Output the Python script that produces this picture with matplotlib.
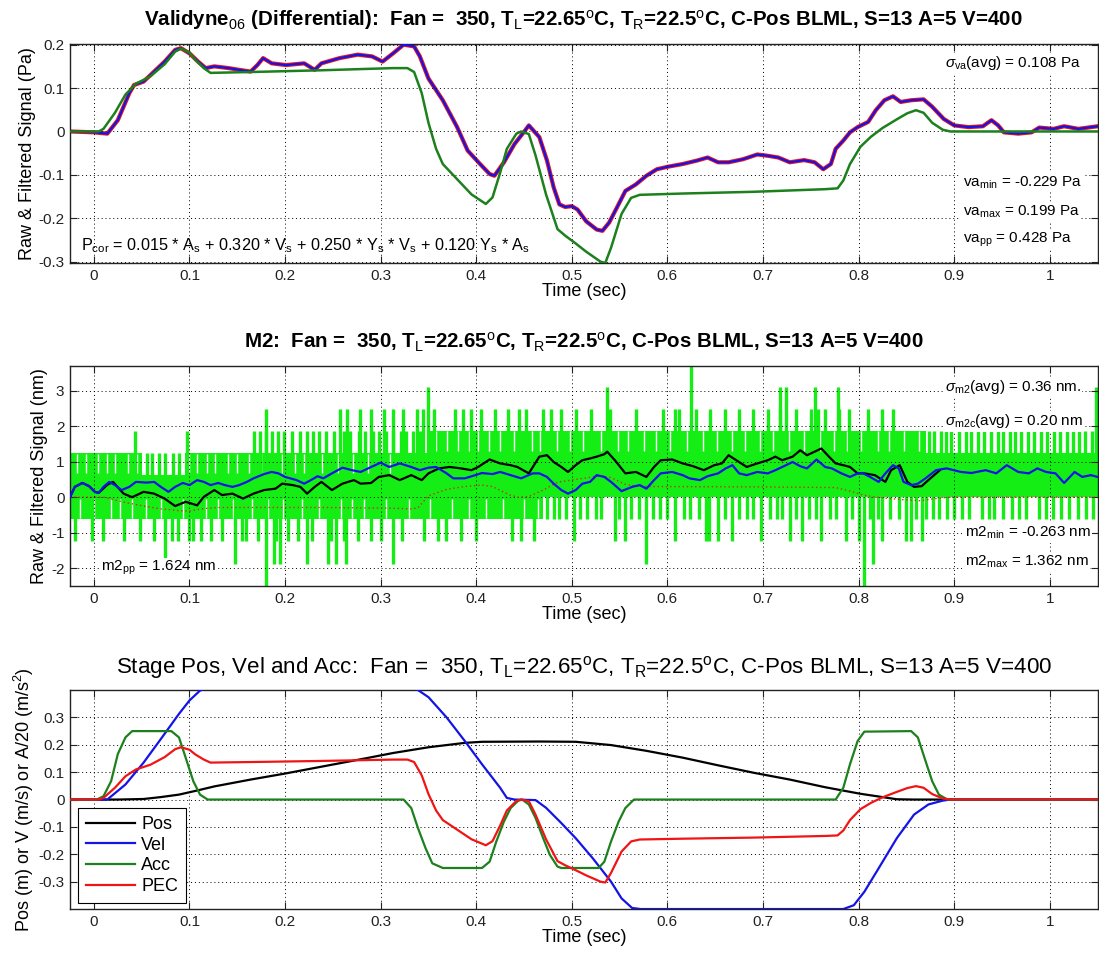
import matplotlib
matplotlib.use("Agg")
import matplotlib.pyplot as plt
import numpy as np
from matplotlib.ticker import FuncFormatter

plt.rcParams["font.family"] = ["Liberation Sans", "DejaVu Sans"]
plt.rcParams["mathtext.fontset"] = "custom"
plt.rcParams["mathtext.rm"] = "Liberation Sans"
plt.rcParams["mathtext.it"] = "Liberation Sans:italic"
plt.rcParams["mathtext.bf"] = "Liberation Sans:bold"

# ------------------------------------------------------------
# Panel 1: Validyne pressure (filtered) and P_cor model
# ------------------------------------------------------------
va_t = [-0.025, 0.0, 0.014, 0.025, 0.037, 0.042, 0.052, 0.063, 0.074, 0.085, 0.091,
        0.1, 0.109, 0.117, 0.126, 0.141, 0.152, 0.164, 0.171, 0.177, 0.186, 0.201,
        0.22, 0.231, 0.238, 0.257, 0.276, 0.291, 0.302, 0.313, 0.324, 0.335, 0.341,
        0.35, 0.365, 0.38, 0.391, 0.404, 0.414, 0.419, 0.429, 0.44, 0.451, 0.455,
        0.466, 0.474, 0.481, 0.487, 0.493, 0.5, 0.506, 0.515, 0.526, 0.532, 0.539,
        0.547, 0.556, 0.567, 0.578, 0.589, 0.601, 0.616, 0.631, 0.642, 0.653, 0.664,
        0.679, 0.694, 0.705, 0.716, 0.728, 0.743, 0.754, 0.763, 0.771, 0.776, 0.784,
        0.791, 0.799, 0.81, 0.818, 0.827, 0.836, 0.844, 0.855, 0.868, 0.877, 0.889,
        0.9, 0.915, 0.93, 0.939, 0.946, 0.952, 0.967, 0.981, 0.989, 1.004, 1.015,
        1.03, 1.05]
va_v = [0.0, -0.002, -0.005, 0.026, 0.088, 0.107, 0.115, 0.138, 0.161, 0.188, 0.192,
        0.18, 0.161, 0.146, 0.15, 0.146, 0.142, 0.138, 0.153, 0.169, 0.157, 0.153,
        0.157, 0.142, 0.157, 0.169, 0.177, 0.173, 0.161, 0.18, 0.2, 0.196, 0.173,
        0.122, 0.072, 0.01, -0.044, -0.075, -0.098, -0.102, -0.071, -0.029, 0.002, 0.014,
        -0.013, -0.067, -0.129, -0.168, -0.174, -0.172, -0.18, -0.207, -0.226, -0.229, -0.21,
        -0.176, -0.137, -0.122, -0.102, -0.087, -0.081, -0.075, -0.067, -0.06, -0.071, -0.071,
        -0.064, -0.053, -0.056, -0.06, -0.071, -0.066, -0.071, -0.087, -0.075, -0.04, -0.021,
        -0.002, 0.01, 0.022, 0.049, 0.072, 0.081, 0.068, 0.072, 0.074, 0.057, 0.029,
        0.014, 0.01, 0.012, 0.026, 0.014, -0.002, -0.005, -0.002, 0.009, 0.006, 0.012,
        0.006, 0.012]

# P_cor model == PEC curve of the stage panel
pec_t = [-0.025, 0.005, 0.01, 0.022, 0.033, 0.044, 0.059, 0.074, 0.085, 0.091, 0.1,
         0.106, 0.115, 0.122, 0.164, 0.238, 0.313, 0.328, 0.335, 0.343, 0.35, 0.358,
         0.365, 0.38, 0.395, 0.41, 0.417, 0.425, 0.432, 0.442, 0.447, 0.455, 0.462,
         0.473, 0.485, 0.493, 0.504, 0.515, 0.53, 0.535, 0.541, 0.552, 0.562, 0.571,
         0.616, 0.69, 0.765, 0.778, 0.784, 0.791, 0.802, 0.813, 0.825, 0.84, 0.851,
         0.86, 0.868, 0.877, 0.888, 0.896, 1.05]
pec_v = [0.0, 0.0, 0.006, 0.043, 0.085, 0.11, 0.127, 0.155, 0.184, 0.191, 0.182,
         0.165, 0.146, 0.135, 0.137, 0.141, 0.146, 0.146, 0.137, 0.088, 0.02, -0.04,
         -0.075, -0.11, -0.145, -0.167, -0.152, -0.095, -0.04, -0.005, 0.0, -0.006, -0.055,
         -0.145, -0.225, -0.24, -0.258, -0.277, -0.3, -0.303, -0.268, -0.19, -0.153, -0.146,
         -0.143, -0.139, -0.133, -0.131, -0.113, -0.075, -0.035, -0.012, 0.008, 0.028, 0.042,
         0.049, 0.043, 0.02, 0.004, 0.0, 0.0]

# ------------------------------------------------------------
# Panel 2: M2 raw (quantised), filtered, corrected
# ------------------------------------------------------------
m2_core_t = [-0.025, 0.05, 0.095, 0.35, 0.47, 0.87, 1.05]
m2_core_lo = [-0.62, -0.62, -0.62, -0.62, 0.0, 0.0, 0.0]
m2_core_hi = [1.245, 0.62, 1.245, 1.87, 1.87, 1.245, 1.245]

# white streaks inside the dense band (times where the raw signal skips a level)
gap_hi_a = [-0.018, -0.008, 0.004, 0.014, 0.022, 0.036, 0.045, 0.1, 0.108, 0.118,
            0.127, 0.14, 0.15, 0.162, 0.175, 0.197, 0.21, 0.22, 0.239, 0.255, 0.271,
            0.287, 0.31, 0.325, 0.34]
gap_hi_b = [0.358, 0.369, 0.381, 0.392, 0.402, 0.413, 0.425, 0.44, 0.458, 0.467,
            0.484, 0.498, 0.512, 0.53, 0.548, 0.559, 0.575, 0.588, 0.603, 0.62, 0.637,
            0.652, 0.668, 0.681, 0.697, 0.71, 0.727, 0.743, 0.76, 0.774, 0.788, 0.803,
            0.82, 0.832, 0.848, 0.863]
gap_lo = [-0.015, 0.0, 0.018, 0.027, 0.04, 0.055, 0.07, 0.093, 0.117, 0.13, 0.145,
          0.165, 0.182, 0.198, 0.218, 0.235, 0.258, 0.27, 0.283, 0.306, 0.33, 0.352,
          0.375, 0.392, 0.41, 0.428, 0.45, 0.465]

up_125 = [0.056, 0.061, 0.068, 0.074, 0.083, 0.089]
up_187 = [0.043, 0.097, 0.168, 0.174, 0.18, 0.186, 0.193, 0.199, 0.207, 0.216, 0.223,
          0.229, 0.236, 0.243, 0.251, 0.262, 0.268, 0.277, 0.284, 0.292, 0.298, 0.306,
          0.313, 0.321, 0.327, 0.334, 0.341, 0.874, 0.879, 0.886, 0.891, 0.897, 0.905,
          0.912, 0.918, 0.925, 0.931, 0.938, 0.946, 0.951, 0.958, 0.964, 0.97, 0.977,
          0.984, 0.991, 0.997, 1.004, 1.011, 1.018, 1.024, 1.031, 1.037, 1.044]
up_249 = [0.18, 0.257, 0.265, 0.278, 0.29, 0.304, 0.313, 0.323, 0.338, 0.344, 0.356,
          0.378, 0.386, 0.395, 0.405, 0.42, 0.433, 0.445, 0.452, 0.47, 0.478, 0.489,
          0.504, 0.52, 0.54, 0.567, 0.595, 0.608, 0.612, 0.63, 0.645, 0.66, 0.675,
          0.69, 0.705, 0.718, 0.735, 0.75, 0.757, 0.765, 0.78, 0.79, 0.81, 0.825, 0.836]
up_311 = [0.35, 0.537, 0.718, 0.724, 0.754, 0.778, 1.048]
up_373 = [0.625]
dn_062 = [0.474, 0.481, 0.487, 0.494, 0.509, 0.516, 0.525, 0.531, 0.549, 0.562, 0.57,
          0.585, 0.592, 0.6, 0.617, 0.624, 0.633, 0.66, 0.675, 0.683, 0.69, 0.707,
          0.715, 0.72, 0.735, 0.748, 0.755, 0.77, 0.776, 0.793, 0.812, 0.82, 0.833,
          0.842, 0.86, 0.871, 0.878, 0.884, 0.893, 0.9, 0.908, 0.915, 0.929, 0.936,
          0.942, 0.951, 0.96, 0.968, 0.975, 0.989, 0.996, 1.003, 1.012, 1.02, 1.03,
          1.038, 1.045]
dn_125 = [-0.02, -0.002, 0.01, 0.031, 0.048, 0.063, 0.082, 0.088, 0.1, 0.104, 0.112,
          0.123, 0.134, 0.155, 0.159, 0.172, 0.19, 0.203, 0.213, 0.228, 0.248, 0.262,
          0.276, 0.29, 0.3, 0.322, 0.345, 0.36, 0.368, 0.384, 0.4, 0.437, 0.447, 0.46,
          0.502, 0.545, 0.556, 0.608, 0.64, 0.644, 0.653, 0.668, 0.698, 0.728, 0.741,
          0.761, 0.787, 0.8, 0.825, 0.85, 0.855, 0.866]
dn_187 = [0.074, 0.148, 0.188, 0.195, 0.223, 0.245, 0.253, 0.264, 0.313, 0.578, 0.815]
dn_249 = [0.18, 0.806]

m2f_t = [-0.025, -0.02, -0.012, -0.005, 0.001, 0.005, 0.01, 0.016, 0.022, 0.029, 0.037,
         0.044, 0.055, 0.063, 0.07, 0.078, 0.085, 0.093, 0.1, 0.108, 0.115, 0.122, 0.13,
         0.137, 0.145, 0.152, 0.16, 0.167, 0.178, 0.186, 0.193, 0.2, 0.212, 0.22, 0.227,
         0.234, 0.24, 0.249, 0.26, 0.27, 0.279, 0.29, 0.3, 0.309, 0.32, 0.332, 0.341,
         0.35, 0.358, 0.369, 0.376, 0.388, 0.399, 0.406, 0.417, 0.425, 0.436, 0.447,
         0.459, 0.466, 0.474, 0.481, 0.489, 0.496, 0.504, 0.511, 0.519, 0.526, 0.534,
         0.541, 0.552, 0.563, 0.571, 0.578, 0.586, 0.593, 0.605, 0.616, 0.623, 0.634,
         0.642, 0.653, 0.661, 0.668, 0.675, 0.683, 0.694, 0.705, 0.713, 0.724, 0.731,
         0.739, 0.746, 0.756, 0.765, 0.772, 0.782, 0.791, 0.799, 0.804, 0.812, 0.821,
         0.828, 0.836, 0.842, 0.847, 0.855, 0.862, 0.87, 0.881, 0.892, 0.907, 0.918,
         0.933, 0.944, 0.955, 0.967, 0.978, 0.987, 0.996, 1.006, 1.015, 1.026, 1.034,
         1.043, 1.05]
m2f_v = [0.0, 0.29, 0.4, 0.31, 0.15, 0.12, 0.29, 0.43, 0.34, 0.2, 0.29,
         0.43, 0.41, 0.43, 0.29, 0.15, 0.29, 0.4, 0.34, 0.48, 0.43, 0.34, 0.4,
         0.34, 0.29, 0.34, 0.43, 0.53, 0.65, 0.71, 0.67, 0.57, 0.48, 0.38, 0.48,
         0.59, 0.53, 0.67, 0.83, 0.76, 0.71, 0.85, 0.97, 0.85, 0.95, 0.85, 0.76,
         0.83, 0.85, 0.67, 0.53, 0.53, 0.62, 0.68, 0.65, 0.71, 0.62, 0.53,
         0.67, 0.67, 0.57, 0.38, 0.2, 0.1, 0.2, 0.38, 0.43, 0.62, 0.57,
         0.43, 0.17, 0.29, 0.34, 0.24, 0.48, 0.67, 0.71, 0.62, 0.53, 0.48,
         0.59, 0.67, 0.81, 0.9, 0.67, 0.62, 0.71, 0.67, 0.76, 0.9, 0.99,
         0.87, 0.81, 1.06, 0.85, 0.81, 0.67, 0.57, 0.67, 0.68, 0.57, 0.43,
         0.67, 0.9, 0.81, 0.43, 0.34, 0.38, 0.53, 0.76, 0.81, 0.71, 0.68,
         0.76, 0.67, 0.9, 0.71, 0.67, 0.81, 0.71, 0.67, 0.4, 0.71, 0.57,
         0.62, 0.57]

m2c_t = [-0.025, -0.02, -0.012, -0.005, 0.001, 0.005, 0.014, 0.02, 0.031, 0.04, 0.052,
         0.063, 0.074, 0.085, 0.096, 0.108, 0.115, 0.126, 0.134, 0.145, 0.156, 0.167,
         0.178, 0.19, 0.197, 0.208, 0.216, 0.223, 0.231, 0.238, 0.249, 0.26, 0.272,
         0.279, 0.29, 0.298, 0.309, 0.32, 0.332, 0.343, 0.35, 0.361, 0.372, 0.384,
         0.395, 0.402, 0.414, 0.425, 0.436, 0.443, 0.455, 0.466, 0.474, 0.481, 0.489,
         0.496, 0.504, 0.511, 0.519, 0.526, 0.534, 0.537, 0.545, 0.556, 0.567, 0.578,
         0.586, 0.593, 0.605, 0.616, 0.627, 0.638, 0.649, 0.657, 0.664, 0.672, 0.683,
         0.694, 0.705, 0.713, 0.72, 0.731, 0.739, 0.746, 0.754, 0.761, 0.769, 0.776,
         0.784, 0.791, 0.799, 0.806, 0.817, 0.828, 0.834, 0.843, 0.851, 0.858, 0.866,
         0.873, 0.885]
m2c_v = [0.0, 0.29, 0.4, 0.31, 0.15, 0.12, 0.35, 0.43, 0.1, 0.0, 0.15,
         0.1, -0.04, -0.25, -0.13, -0.23, 0.01, 0.2, 0.06, 0.1, -0.04, 0.1,
         0.2, 0.24, 0.38, 0.34, 0.29, 0.1, 0.29, 0.43, 0.2, 0.38, 0.48,
         0.38, 0.4, 0.57, 0.62, 0.48, 0.62, 0.48, 0.67, 0.81, 0.85, 0.81,
         0.76, 0.85, 1.06, 0.95, 0.9, 0.85, 0.67, 1.14, 1.18, 0.99, 0.85,
         0.71, 0.9, 1.04, 1.09, 1.14, 1.21, 1.28, 1.04, 0.67, 0.71, 0.57,
         0.85, 1.04, 1.06, 0.95, 0.87, 0.76, 0.9, 0.95, 1.18, 1.04, 0.85,
         0.95, 1.04, 1.14, 1.04, 1.14, 1.32, 1.18, 1.28, 1.37, 1.14, 0.95,
         0.9, 0.85, 0.67, 0.67, 0.62, 0.43, 0.76, 0.9, 0.43, 0.29, 0.31,
         0.48, 0.76]

m2p_t = [-0.025, 0.01, 0.033, 0.052, 0.07, 0.089, 0.1, 0.115, 0.13, 0.164, 0.238,
         0.313, 0.332, 0.339, 0.35, 0.369, 0.388, 0.406, 0.417, 0.425, 0.436, 0.444,
         0.455, 0.47, 0.485, 0.504, 0.53, 0.541, 0.556, 0.571, 0.69, 0.776, 0.791,
         0.806, 0.825, 0.851, 0.865, 0.877, 0.895, 1.05]
m2p_v = [0.0, 0.0, -0.15, -0.25, -0.33, -0.38, -0.39, -0.32, -0.29, -0.29, -0.29,
         -0.31, -0.33, -0.3, 0.04, 0.22, 0.3, 0.34, 0.3, 0.19, 0.05, 0.0,
         0.02, 0.2, 0.42, 0.5, 0.6, 0.55, 0.36, 0.3, 0.29, 0.27, 0.17,
         0.05, -0.02, -0.08, -0.1, -0.05, 0.0, 0.0]

# ------------------------------------------------------------
# Panel 3: stage position, velocity, acceleration/20
# ------------------------------------------------------------
pos_t = [-0.025, 0.025, 0.052, 0.07, 0.089, 0.108, 0.126, 0.164, 0.2, 0.238, 0.276,
         0.313, 0.35, 0.388, 0.406, 0.466, 0.504, 0.541, 0.578, 0.616, 0.653, 0.69,
         0.728, 0.765, 0.802, 0.825, 0.84, 0.858, 1.05]
pos_v = [0.0, 0.0, 0.002, 0.009, 0.018, 0.033, 0.048, 0.073, 0.095, 0.12, 0.145,
         0.17, 0.191, 0.207, 0.211, 0.212, 0.211, 0.199, 0.178, 0.153, 0.125, 0.098,
         0.073, 0.045, 0.021, 0.009, 0.001, 0.0, 0.0]

vel_t = [-0.025, 0.014, 0.033, 0.052, 0.07, 0.089, 0.1, 0.111, 0.12, 0.33, 0.339,
         0.35, 0.369, 0.388, 0.406, 0.425, 0.432, 0.44, 0.462, 0.473, 0.489, 0.504,
         0.522, 0.541, 0.552, 0.563, 0.572, 0.784, 0.795, 0.806, 0.821, 0.84, 0.858,
         0.873, 0.888, 0.896, 1.05]
vel_v = [0.0, 0.0, 0.055, 0.135, 0.221, 0.313, 0.362, 0.398, 0.41, 0.41, 0.4,
         0.374, 0.3, 0.214, 0.129, 0.043, 0.006, 0.0, -0.002, -0.03, -0.086, -0.141,
         -0.215, -0.3, -0.361, -0.396, -0.4, -0.4, -0.386, -0.337, -0.251, -0.141, -0.055,
         -0.018, -0.004, 0.0, 0.0]

acc_t = [-0.025, 0.003, 0.01, 0.018, 0.025, 0.033, 0.04, 0.081, 0.089, 0.096, 0.104,
         0.111, 0.119, 0.324, 0.332, 0.339, 0.347, 0.354, 0.365, 0.406, 0.414, 0.421,
         0.429, 0.436, 0.444, 0.448, 0.455, 0.462, 0.47, 0.477, 0.485, 0.489, 0.528,
         0.534, 0.541, 0.549, 0.556, 0.565, 0.776, 0.784, 0.791, 0.799, 0.806, 0.855,
         0.862, 0.87, 0.877, 0.884, 0.893, 1.05]
acc_v = [0.0, 0.0, 0.012, 0.067, 0.166, 0.227, 0.25, 0.25, 0.227, 0.153, 0.067,
         0.018, 0.0, 0.0, -0.031, -0.104, -0.178, -0.233, -0.25, -0.25, -0.227, -0.153,
         -0.08, -0.031, -0.004, 0.0, -0.018, -0.067, -0.141, -0.202, -0.245, -0.25, -0.25,
         -0.227, -0.153, -0.08, -0.031, 0.0, 0.0, 0.043, 0.129, 0.214, 0.248, 0.25,
         0.227, 0.141, 0.067, 0.018, 0.0, 0.0]

XTICKS = [0, 0.1, 0.2, 0.3, 0.4, 0.5, 0.6, 0.7, 0.8, 0.9, 1.0]

BLUE = "#1414e6"
RED = "#f01414"
DKGREEN = "#1c801c"
LIME = "#14ee14"

fig = plt.figure(figsize=(10.99, 9.58), dpi=100)

fmt = FuncFormatter(lambda v, p: f"{v:g}")


def style_axes(ax, yticks, ylim, ylabel):
    ax.set_xlim(-0.025, 1.05)
    ax.set_ylim(*ylim)
    ax.set_xticks(XTICKS)
    ax.set_yticks(yticks)
    ax.xaxis.set_major_formatter(fmt)
    ax.yaxis.set_major_formatter(fmt)
    ax.tick_params(direction="in", top=True, right=True, length=5, width=0.8,
                   labelsize=11, pad=4, colors="#222222")
    ax.grid(True, linestyle=(0, (1, 3)), color="k", linewidth=0.7)
    ax.set_axisbelow(False)
    for s in ax.spines.values():
        s.set_linewidth(1.0)
        s.set_color("#222222")
    ax.set_xlabel("Time (sec)", fontsize=13, labelpad=0)
    ax.set_ylabel(ylabel, fontsize=13, labelpad=2)


box = dict(facecolor="white", edgecolor="none", pad=1.0)
TXT = 11

# ---------------- panel 1 ----------------
ax1 = fig.add_axes([0.0637, 0.7255, 0.935, 0.229])
ax1.plot(va_t, va_v, color=RED, lw=3.0, zorder=2)
ax1.plot(va_t, va_v, color=BLUE, lw=1.6, zorder=3)
ax1.plot(pec_t, pec_v, color=DKGREEN, lw=1.8, zorder=4)
style_axes(ax1, [-0.3, -0.2, -0.1, 0, 0.1, 0.2], (-0.303, 0.2025),
           "Raw & Filtered Signal (Pa)")
ax1.set_title(r"Validyne$_{\rm 06}$ (Differential):  Fan =  350, T$_{\rm L}$=22.65$^{\rm o}$C, "
              r"T$_{\rm R}$=22.5$^{\rm o}$C, C-Pos BLML, S=13 A=5 V=400",
              fontsize=14.8, fontweight="bold", pad=13)
ax1.text(0.89, 0.158, r"$\sigma_{\rm va}$(avg) = 0.108 Pa", fontsize=TXT, va="center", bbox=box, zorder=6)
ax1.text(0.909, -0.118, r"va$_{\rm min}$ = -0.229 Pa", fontsize=TXT, va="center", bbox=box, zorder=6)
ax1.text(0.909, -0.185, r"va$_{\rm max}$ = 0.199 Pa", fontsize=TXT, va="center", bbox=box, zorder=6)
ax1.text(0.909, -0.25, r"va$_{\rm pp}$ = 0.428 Pa", fontsize=TXT, va="center", bbox=box, zorder=6)
ax1.text(-0.014, -0.264,
         r"P$_{\rm cor}$ = 0.015 * A$_{\rm s}$ + 0.320 * V$_{\rm s}$ + 0.250 * Y$_{\rm s}$ * V$_{\rm s}$"
         r" + 0.120 Y$_{\rm s}$ * A$_{\rm s}$",
         fontsize=11.7, va="center", zorder=6)

# ---------------- panel 2 ----------------
ax2 = fig.add_axes([0.0637, 0.3883, 0.935, 0.2296])
ax2.fill_between(m2_core_t, m2_core_lo, m2_core_hi, step="post", color=LIME, lw=0, zorder=2)
ax2.vlines(gap_hi_a, 0.68, 1.22, color="white", lw=1.0, zorder=2.2)
ax2.vlines(gap_hi_b, 1.3, 1.85, color="white", lw=1.0, zorder=2.2)
ax2.vlines(gap_lo, -0.6, -0.05, color="white", lw=1.0, zorder=2.2)
for tips, level in [(up_125, 1.245), (up_187, 1.87), (up_249, 2.49), (up_311, 3.11),
                    (up_373, 3.73), (dn_062, -0.62), (dn_125, -1.245), (dn_187, -1.87),
                    (dn_249, -2.49)]:
    ax2.vlines(tips, 0.3, level, color=LIME, lw=2.4, zorder=2.4)
ax2.plot(m2p_t, m2p_v, color="#c8321e", lw=1.0, linestyle=(0, (1, 2)), zorder=3)
ax2.plot(m2c_t, m2c_v, color="k", lw=1.6, zorder=4)
ax2.plot(m2f_t, m2f_v, color=BLUE, lw=1.6, zorder=5)
style_axes(ax2, [-2, -1, 0, 1, 2, 3], (-2.5, 3.69), "Raw & Filtered Signal (nm)")
ax2.set_title(r"M2:  Fan =  350, T$_{\rm L}$=22.65$^{\rm o}$C, T$_{\rm R}$=22.5$^{\rm o}$C, "
              r"C-Pos BLML, S=13 A=5 V=400", fontsize=14.8, fontweight="bold", pad=13)
ax2.text(0.89, 3.1, r"$\sigma_{\rm m2}$(avg) = 0.36 nm.", fontsize=TXT, va="center", bbox=box, zorder=6)
ax2.text(0.89, 2.14, r"$\sigma_{\rm m2c}$(avg) = 0.20 nm", fontsize=TXT, va="center", bbox=box, zorder=6)
ax2.text(0.911, -1.01, r"m2$_{\rm min}$ = -0.263 nm", fontsize=TXT, va="center", bbox=box, zorder=6)
ax2.text(0.911, -1.83, r"m2$_{\rm max}$ = 1.362 nm", fontsize=TXT, va="center", bbox=box, zorder=6)
ax2.text(0.007, -2.0, r"m2$_{\rm pp}$ = 1.624 nm", fontsize=TXT, va="center", bbox=box, zorder=6)

# ---------------- panel 3 ----------------
ax3 = fig.add_axes([0.0637, 0.0511, 0.935, 0.2286])
ax3.plot(pos_t, pos_v, color="k", lw=1.6, label="Pos", zorder=3)
ax3.plot(vel_t, vel_v, color=BLUE, lw=1.6, label="Vel", zorder=3)
ax3.plot(acc_t, acc_v, color=DKGREEN, lw=1.6, label="Acc", zorder=3)
ax3.plot(pec_t, pec_v, color=RED, lw=1.6, label="PEC", zorder=3)
style_axes(ax3, [-0.3, -0.2, -0.1, 0, 0.1, 0.2, 0.3], (-0.4, 0.4),
           r"Pos (m) or V (m/s) or A/20 (m/s$^2$)")
ax3.set_title(r"Stage Pos, Vel and Acc:  Fan =  350, T$_{\rm L}$=22.65$^{\rm o}$C, "
              r"T$_{\rm R}$=22.5$^{\rm o}$C, C-Pos BLML, S=13 A=5 V=400",
              fontsize=16.1, pad=12)
leg = ax3.legend(loc="lower left", bbox_to_anchor=(0.0078, 0.027), borderaxespad=0,
                 fontsize=13, handlelength=2.7, handletextpad=0.35, labelspacing=0.2,
                 borderpad=0.45, fancybox=False, framealpha=1, edgecolor="k")
leg.get_frame().set_linewidth(0.8)
leg.set_zorder(7)

fig.savefig("out.png", dpi=100)
